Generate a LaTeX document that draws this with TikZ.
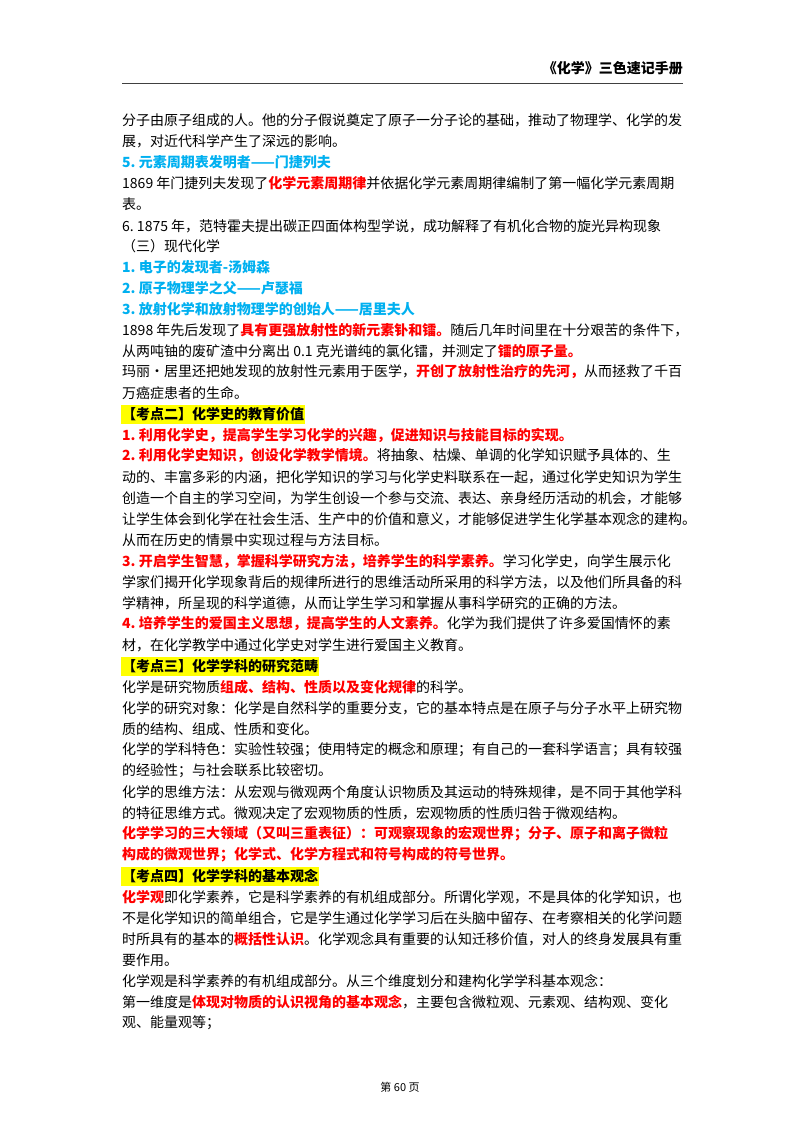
\documentclass[tikz,border=0pt]{standalone}
\usepackage{fontspec}
\setmainfont{Noto Sans CJK SC}
\definecolor{hired}{HTML}{FF0000}
\definecolor{hiblue}{HTML}{00B0F0}
\definecolor{hiyel}{HTML}{FFFF00}
\newcommand\rd[1]{{\bfseries\color{hired}#1}}
\newcommand\bl[1]{{\bfseries\color{hiblue}#1}}
\begin{document}
\begin{tikzpicture}[x=1pt,y=-1pt,
  every node/.style={inner sep=0pt,font=\fontsize{14pt}{20pt}\selectfont},
  jl/.style={anchor=west},
  rl/.style={anchor=west},
  hl/.style={anchor=west,fill=hiyel,inner xsep=1pt,minimum height=19pt,font=\fontsize{14pt}{20pt}\selectfont\bfseries}]
\useasboundingbox (0,0) rectangle (800,1132);
\fill[white] (0,0) rectangle (800,1132);
\node[anchor=east,font=\fontsize{14pt}{16pt}\selectfont\bfseries] (hd) at (683,68) {《化学》三色速记手册};
\draw[line width=0.8pt,black!75] (122,83) -- (683,83);
\node[jl] (a1) at (122,120) {分子由原子组成的人。他的分子假说奠定了原子一分子论的基础，推动了物理学、化学的发};
\node[rl] (a2) at (122,141) {展，对近代科学产生了深远的影响。};
\node[rl] (a3) at (122,162) {\bl{5.~元素周期表发明者——门捷列夫}};
\node[jl] (a4) at (122,183) {1869~年门捷列夫发现了\rd{化学元素周期律}并依据化学元素周期律编制了第一幅化学元素周期};
\node[rl] (a5) at (122,204) {表。};
\node[rl] (a6) at (122,226) {6.~1875~年，范特霍夫提出碳正四面体构型学说，成功解释了有机化合物的旋光异构现象};
\node[rl] (a7) at (122,246) {（三）现代化学};
\node[rl] (a8) at (122,267) {\bl{1.~电子的发现者-汤姆森}};
\node[rl] (a9) at (122,288) {\bl{2.~原子物理学之父——卢瑟福}};
\node[rl] (a10) at (122,309) {\bl{3.~放射化学和放射物理学的创始人——居里夫人}};
\node[jl] (a11) at (122,330) {1898~年先后发现了\rd{具有更强放射性的新元素钋和镭。}随后几年时间里在十分艰苦的条件下，};
\node[rl] (a12) at (122,351) {从两吨铀的废矿渣中分离出~0.1~克光谱纯的氯化镭，并测定了\rd{镭的原子量。}};
\node[jl] (a13) at (122,372) {玛丽·居里还把她发现的放射性元素用于医学，\rd{开创了放射性治疗的先河，}从而拯救了千百};
\node[rl] (a14) at (122,393) {万癌症患者的生命。};
\node[hl] (k2) at (121,414) {【考点二】化学史的教育价值};
\node[rl] (b1) at (122,435) {\rd{1.~利用化学史，提高学生学习化学的兴趣，促进知识与技能目标的实现。}};
\node[jl] (b2) at (122,456) {\rd{2.~利用化学史知识，创设化学教学情境。}将抽象、枯燥、单调的化学知识赋予具体的、生};
\node[jl] (b3) at (122,477) {动的、丰富多彩的内涵，把化学知识的学习与化学史料联系在一起，通过化学史知识为学生};
\node[jl] (b4) at (122,498) {创造一个自主的学习空间，为学生创设一个参与交流、表达、亲身经历活动的机会，才能够};
\node[jl] (b5) at (122,519) {让学生体会到化学在社会生活、生产中的价值和意义，才能够促进学生化学基本观念的建构。};
\node[rl] (b6) at (122,540) {从而在历史的情景中实现过程与方法目标。};
\node[jl] (b7) at (122,561) {\rd{3.~开启学生智慧，掌握科学研究方法，培养学生的科学素养。}学习化学史，向学生展示化};
\node[jl] (b8) at (122,582) {学家们揭开化学现象背后的规律所进行的思维活动所采用的科学方法，以及他们所具备的科};
\node[rl] (b9) at (122,603) {学精神，所呈现的科学道德，从而让学生学习和掌握从事科学研究的正确的方法。};
\node[jl] (b10) at (122,624) {\rd{4.~培养学生的爱国主义思想，提高学生的人文素养。}化学为我们提供了许多爱国情怀的素};
\node[rl] (b11) at (122,645) {材，在化学教学中通过化学史对学生进行爱国主义教育。};
\node[hl] (k3) at (121,666) {【考点三】化学学科的研究范畴};
\node[rl] (c1) at (122,687) {化学是研究物质\rd{组成、结构、性质以及变化规律}的科学。};
\node[jl] (c2) at (122,708) {化学的研究对象：化学是自然科学的重要分支，它的基本特点是在原子与分子水平上研究物};
\node[rl] (c3) at (122,729) {质的结构、组成、性质和变化。};
\node[jl] (c4) at (122,750) {化学的学科特色：实验性较强；使用特定的概念和原理；有自己的一套科学语言；具有较强};
\node[rl] (c5) at (122,771) {的经验性；与社会联系比较密切。};
\node[jl] (c6) at (122,792) {化学的思维方法：从宏观与微观两个角度认识物质及其运动的特殊规律，是不同于其他学科};
\node[rl] (c7) at (122,813) {的特征思维方式。微观决定了宏观物质的性质，宏观物质的性质归咎于微观结构。};
\node[jl] (c8) at (122,834) {\rd{化学学习的三大领域（又叫三重表征）：可观察现象的宏观世界；分子、原子和离子微粒}};
\node[rl] (c9) at (122,855) {\rd{构成的微观世界；化学式、化学方程式和符号构成的符号世界。}};
\node[hl] (k4) at (121,876) {【考点四】化学学科的基本观念};
\node[jl] (d1) at (122,897) {\rd{化学观}即化学素养，它是科学素养的有机组成部分。所谓化学观，不是具体的化学知识，也};
\node[jl] (d2) at (122,918) {不是化学知识的简单组合，它是学生通过化学学习后在头脑中留存、在考察相关的化学问题};
\node[jl] (d3) at (122,939) {时所具有的基本的\rd{概括性认识}。化学观念具有重要的认知迁移价值，对人的终身发展具有重};
\node[rl] (d4) at (122,960) {要作用。};
\node[rl] (d5) at (122,981) {化学观是科学素养的有机组成部分。从三个维度划分和建构化学学科基本观念：};
\node[jl] (d6) at (122,1002) {第一维度是\rd{体现对物质的认识视角的基本观念}，主要包含微粒观、元素观、结构观、变化};
\node[rl] (d7) at (122,1023) {观、能量观等；};
\node[font=\fontsize{11pt}{13pt}\selectfont] (pg) at (400,1087) {第~60~页};
\end{tikzpicture}
\end{document}
